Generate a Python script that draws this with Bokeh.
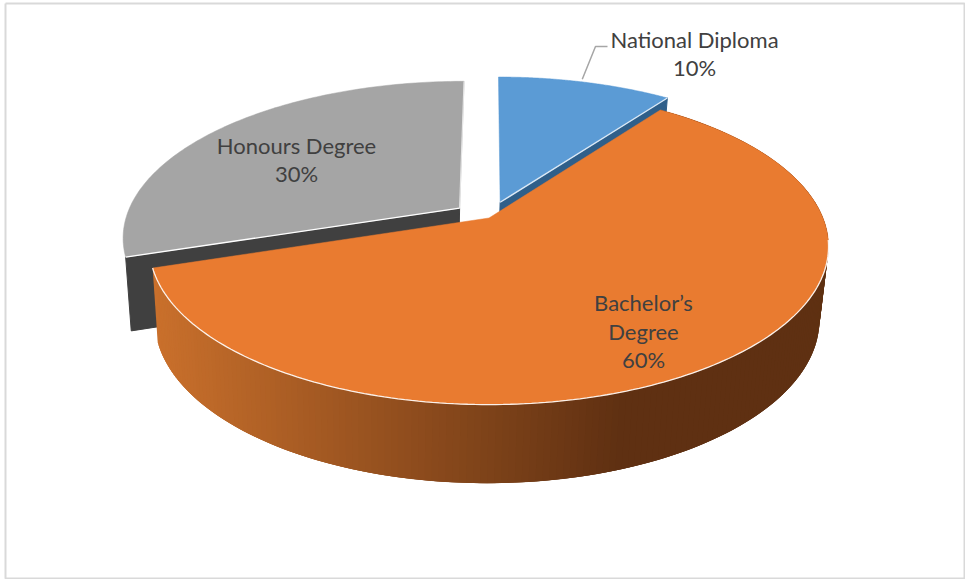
import numpy as np
from bokeh.plotting import figure
from bokeh.models import Range1d
from bokeh.core.properties import value
from bokeh.embed import file_html
from bokeh.resources import INLINE

categories = ["National Diploma", "Bachelor\u2019s Degree", "Honours Degree"]
shares = [10, 60, 30]
exploded = [0.11, 0.0, 0.11]
top_colors = ["#5B9BD5", "#E97B30", "#A5A5A5"]
wall_colors = ["#2F5F8A", "#5F3012", "#404040"]

label_lines = ["National Diploma", "10%", "Honours Degree", "30%", "Bachelor\u2019s", "Degree", "60%"]
label_x = [694, 694, 296, 296, 643, 643, 643]
label_y = [39, 67, 145, 173, 302, 331, 359]

# projection of the unit disc (perspective view of a 3D pie)
K = 0.18
TOP = dict(cx=488.5, cy=217.5, a=334, b=153)
LOW = dict(cx=486.5, cy=290, a=327, b=158)


def project(u, v, plane):
    d = 1 + K * v
    return plane["cx"] + plane["a"] * u / d, plane["cy"] - plane["b"] * v / d


fracs = np.cumsum([0] + shares) / sum(shares) * 2 * np.pi
starts, ends = fracs[:-1], fracs[1:]

p = figure(width=965, height=579, x_range=Range1d(0, 965), y_range=Range1d(579, 0),
           output_backend="svg", toolbar_location=None, min_border=0,
           x_axis_type=None, y_axis_type=None,
           styles={"position": "absolute", "left": "0px", "top": "0px"})
p.grid.visible = False
p.outline_line_color = None
p.background_fill_color = "white"

# frame
p.line([5, 964, 964, 5, 5], [3, 3, 578, 578, 3], line_color="#D9D9D9", line_width=2)


def offset(i):
    mid = (starts[i] + ends[i]) / 2
    return exploded[i] * np.sin(mid), exploded[i] * np.cos(mid)


def rim(i, t, plane):
    ou, ov = offset(i)
    return project(np.sin(t) + ou, np.cos(t) + ov, plane)


def hub(i, plane):
    ou, ov = offset(i)
    return project(ou, ov, plane)


def surface(i, plane):
    t = np.linspace(starts[i], ends[i], 120)
    xs, ys = rim(i, t, plane)
    hx, hy = hub(i, plane)
    return [hx, *xs], [hy, *ys]


def cut_face(i, t):
    hx, hy = hub(i, TOP)
    tx, ty = rim(i, t, TOP)
    hx2, hy2 = hub(i, LOW)
    tx2, ty2 = rim(i, t, LOW)
    return [hx, tx, tx2, hx2], [hy, ty, ty2, hy2]


def lerp_color(x):
    s = np.clip((x - 157) / (625 - 157), 0, 1)
    a = np.array([0xC9, 0x70, 0x2C])
    b = np.array([0x5F, 0x30, 0x12])
    c = (a + (b - a) * s).astype(int)
    return "#%02x%02x%02x" % tuple(c)


# gray slice (index 2)
xs, ys = cut_face(2, starts[2])
p.patch(xs, ys, fill_color=wall_colors[2], line_color=wall_colors[2])
xs, ys = surface(2, TOP)
p.patch(xs, ys, fill_color=top_colors[2], line_color=top_colors[2], line_width=0.5)
hx, hy = hub(2, TOP)
tx, ty = rim(2, starts[2], TOP)
p.line([hx, tx], [hy, ty], line_color="white", line_width=1.3)
tx, ty = rim(2, ends[2], TOP)
p.line([hx, tx], [hy, ty], line_color="#E4E4E4", line_width=1.2)

# blue slice (index 0)
xs, ys = cut_face(0, ends[0])
p.patch(xs, ys, fill_color=wall_colors[0], line_color=wall_colors[0])
xs, ys = surface(0, TOP)
p.patch(xs, ys, fill_color=top_colors[0], line_color=top_colors[0], line_width=0.5)
hx, hy = hub(0, TOP)
tx, ty = rim(0, ends[0], TOP)
p.line([hx, tx], [hy, ty], line_color="#DCE9F5", line_width=1.3)

# orange wall as shaded strips painted with overlap, then its top
t = np.linspace(starts[1], ends[1], 217)
x1, y1 = rim(1, t, TOP)
x2, y2 = rim(1, t, LOW)
qx, qy, qc = [], [], []
for j in range(len(t) - 3):
    qx.append([x1[j], x1[j + 3], x2[j + 3], x2[j]])
    qy.append([y1[j], y1[j + 3], y2[j + 3], y2[j]])
    qc.append(lerp_color((x1[j] + x1[j + 1]) / 2))
p.patches(qx, qy, fill_color=qc, line_color=None)

xs, ys = surface(1, TOP)
p.patch(xs, ys, fill_color=top_colors[1], line_color=top_colors[1], line_width=0.5)
vis = t >= np.radians(98)
p.line(x1[vis], y1[vis], line_color="white", line_width=1.3, line_alpha=0.9)

# leader line of the first label
ax, ay = rim(0, (starts[0] + ends[0]) / 2, TOP)
p.line([607, 595, ax - 3], [46, 46, ay - 3], line_color="#A6A6A6", line_width=1.5)

p.text(label_x, label_y, text=label_lines, text_font=value("Lato"), text_font_size="22px",
       text_color="#404040", text_align="center", text_baseline="middle")

open("out.html", "w").write(file_html(p, INLINE))
